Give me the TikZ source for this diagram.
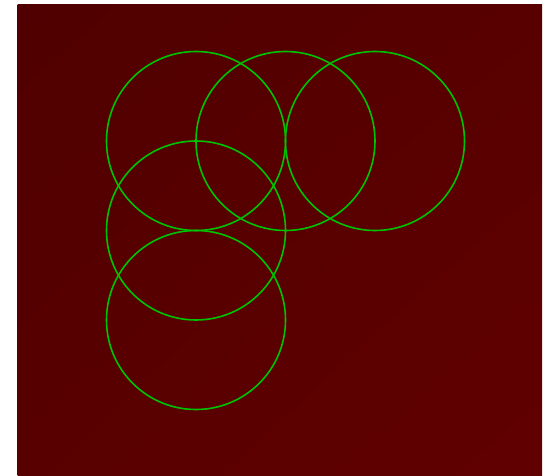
\documentclass[tikz,border=0pt]{standalone}
\usetikzlibrary{shadings}
\definecolor{bgtl}{RGB}{80,0,0}
\definecolor{bgbr}{RGB}{97,0,0}
\definecolor{bgmid}{RGB}{88,0,0}
\definecolor{ring}{RGB}{0,195,0}
\tikzset{ringline/.style={draw=ring,line width=1.6pt}}
\begin{document}
\begin{tikzpicture}[x=1pt,y=-1pt]
\useasboundingbox (0,0) rectangle (558,476);
\shade[upper left=bgtl,upper right=bgmid,lower left=bgmid,lower right=bgbr] (17.5,5) rectangle (542,476);
\def\r{89.5}
\draw[ringline] (196,141) circle (\r);
\draw[ringline] (285.5,141) circle (\r);
\draw[ringline] (375,141) circle (\r);
\draw[ringline] (196,230.5) circle (\r);
\draw[ringline] (196,320) circle (\r);
\end{tikzpicture}
\end{document}
